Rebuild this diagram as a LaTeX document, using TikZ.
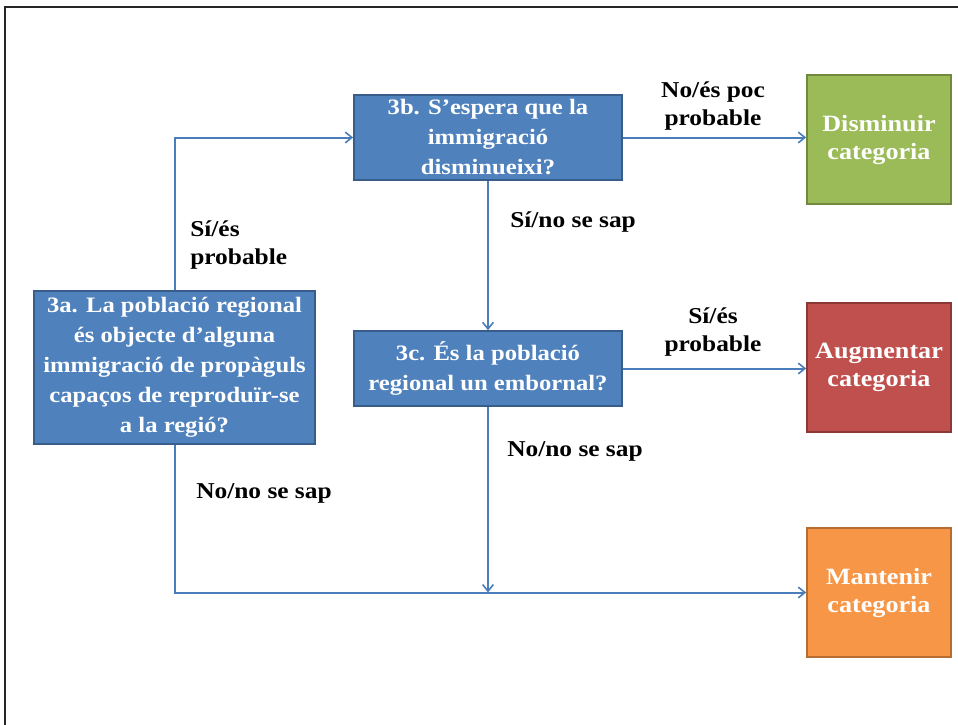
\documentclass[tikz,border=0pt]{standalone}
\usepackage{fontspec}
\setmainfont[FakeStretch=1.12]{Liberation Serif}
\usetikzlibrary{arrows.meta}
\definecolor{boxblue}{HTML}{4F81BD}
\definecolor{boxblueb}{HTML}{385D8A}
\definecolor{boxgreen}{HTML}{9BBB59}
\definecolor{boxgreenb}{HTML}{71893F}
\definecolor{boxred}{HTML}{C0504D}
\definecolor{boxredb}{HTML}{8C3836}
\definecolor{boxorange}{HTML}{F79646}
\definecolor{boxorangeb}{HTML}{B66D31}
\definecolor{linkblue}{HTML}{4A7EBB}
\tikzset{
  qbox/.style={rectangle, fill=boxblue, draw=boxblueb, line width=1.2pt, text=white,
    font=\fontsize{16.5}{22.5}\selectfont\bfseries, align=center, inner sep=1pt},
  obox/.style={rectangle, line width=1.2pt, text=white,
    font=\fontsize{17.5}{21}\selectfont\bfseries, align=center,
    minimum width=108pt, minimum height=96.75pt},
  lbl/.style={font=\fontsize{17}{21.5}\selectfont\bfseries, text=black, inner sep=0pt},
  link/.style={draw=linkblue, line width=1.5pt, -{Straight Barb[length=5pt,width=8pt,line width=1.2pt]}},
  plain/.style={draw=linkblue, line width=1.5pt}
}
\begin{document}
\begin{tikzpicture}[x=0.75pt, y=-0.75pt]
\useasboundingbox (0,0) rectangle (958,725);
\draw[line width=1.5pt, black!85] (5,725) -- (5,7) -- (958,7);

\node[qbox, minimum width=201pt, minimum height=63.75pt] (b) at (488,137.5)
  {3b. S’espera que la\\immigració\\disminueixi?};
\node[qbox, minimum width=210.75pt, minimum height=114.75pt] (a) at (174.5,367.5)
  {3a. La població regional\\és objecte d’alguna\\immigració de propàguls\\capaços de reproduïr-se\\a la regió?};
\node[qbox, minimum width=201pt, minimum height=56.25pt] (c) at (488,368.5)
  {3c. És la població\\regional un embornal?};

\node[obox, fill=boxgreen, draw=boxgreenb] (d) at (879,139.5) {Disminuir\\categoria};
\node[obox, fill=boxred, draw=boxredb] (g) at (879,367.5) {Augmentar\\categoria};
\node[obox, fill=boxorange, draw=boxorangeb] (m) at (879,592.5) {Mantenir\\categoria};

\draw[link] (a.north) |- (b.west);
\draw[link] (b.east) -- (b.east -| d.west);
\draw[link] (b.south) -- (c.north);
\draw[link] (c.east) -- (c.east -| g.west);
\draw[link] (c.south) -- (c.south |- m.west);
\draw[link] (a.south) |- (m.west);

\node[lbl, align=center] (l1) at (713,106) {No/és poc\\probable};
\node[lbl, align=left, anchor=west] (l2) at (190,245) {Sí/és\\probable};
\node[lbl, anchor=west] (l3) at (510,222) {Sí/no se sap};
\node[lbl, align=center] (l4) at (713,332) {Sí/és\\probable};
\node[lbl, anchor=west] (l5) at (507,451) {No/no se sap};
\node[lbl, anchor=west] (l6) at (196,493) {No/no se sap};
\end{tikzpicture}
\end{document}
